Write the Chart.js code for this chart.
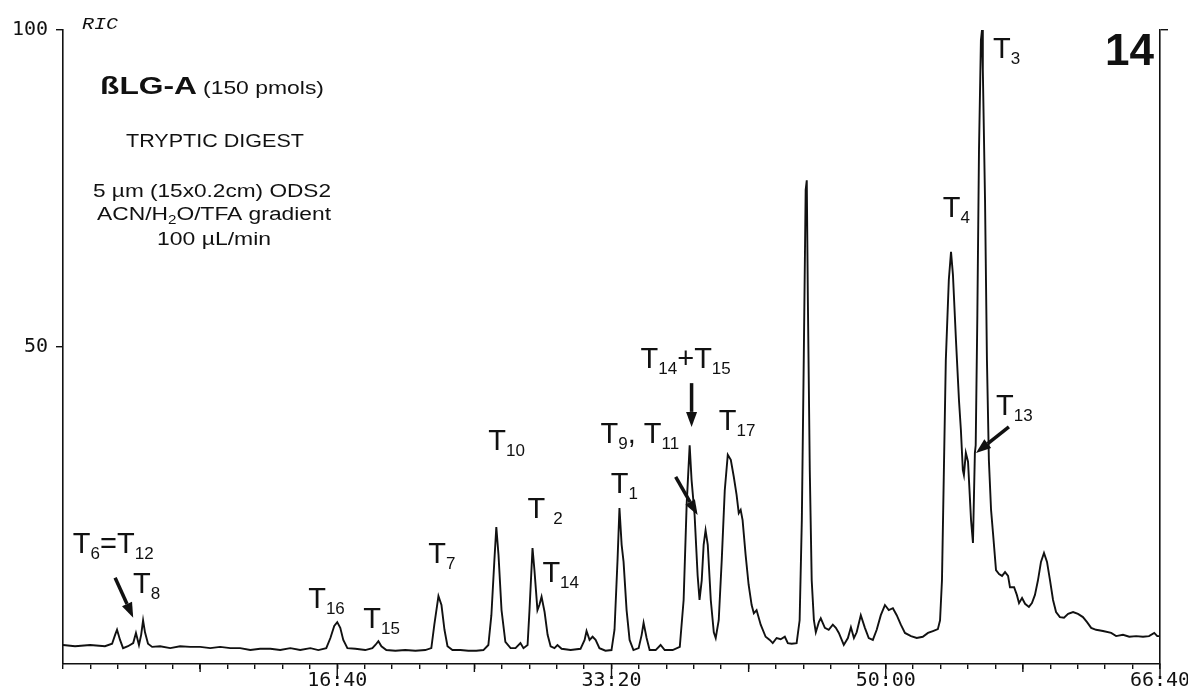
<!DOCTYPE html>
<html>
<head>
<meta charset="utf-8">
<title>RIC - tryptic digest</title>
<script src="https://cdn.jsdelivr.net/npm/chart.js@4.4.1/dist/chart.umd.min.js"></script>
<style>
  html, body { margin: 0; padding: 0; background: #fff; }
  #wrap { position: relative; width: 1188px; height: 700px; }
</style>
</head>
<body>
<div id="wrap"><canvas id="ch"></canvas></div>
<script>
// retention time (s) and RIC intensity (%)
const times = [
  0, 44, 99, 153, 179, 190, 197, 208, 219, 237, 256, 266, 277, 285, 292, 299, 310, 325, 354, 391,
  427, 464, 500, 537, 573, 610, 646, 683, 719, 756, 792, 829, 865, 902, 931, 960, 975, 989, 1000, 1011,
  1022, 1037, 1066, 1102, 1128, 1139, 1150, 1161, 1179, 1212, 1248, 1285, 1321, 1343, 1354, 1369, 1380, 1391, 1402, 1420,
  1449, 1478, 1507, 1533, 1551, 1562, 1573, 1580, 1588, 1599, 1613, 1632, 1650, 1668, 1679, 1694, 1701, 1712, 1719, 1730,
  1737, 1745, 1756, 1767, 1778, 1792, 1803, 1818, 1851, 1887, 1902, 1909, 1920, 1931, 1942, 1956, 1978, 2000, 2011, 2022,
  2029, 2037, 2044, 2055, 2066, 2080, 2099, 2110, 2117, 2128, 2139, 2161, 2179, 2194, 2223, 2249, 2263, 2274, 2285, 2292,
  2303, 2314, 2321, 2329, 2336, 2343, 2351, 2362, 2373, 2380, 2391, 2402, 2413, 2424, 2435, 2446, 2456, 2464, 2471, 2478,
  2489, 2500, 2511, 2519, 2529, 2544, 2562, 2577, 2588, 2602, 2617, 2632, 2643, 2657, 2675, 2686, 2694, 2701, 2708, 2712,
  2716, 2723, 2730, 2738, 2745, 2756, 2763, 2778, 2792, 2807, 2818, 2829, 2847, 2862, 2873, 2884, 2894, 2909, 2924, 2938,
  2953, 2967, 2982, 2997, 3011, 3026, 3040, 3055, 3070, 3092, 3113, 3135, 3154, 3172, 3190, 3198, 3205, 3212, 3219, 3230,
  3238, 3245, 3256, 3267, 3274, 3281, 3285, 3292, 3300, 3311, 3318, 3325, 3328, 3334, 3340, 3347, 3351, 3354, 3362, 3369,
  3376, 3384, 3391, 3402, 3413, 3424, 3435, 3446, 3453, 3468, 3478, 3486, 3497, 3508, 3522, 3533, 3544, 3555, 3566, 3577,
  3588, 3599, 3610, 3621, 3635, 3650, 3665, 3683, 3701, 3719, 3734, 3749, 3767, 3792, 3822, 3840, 3865, 3888, 3913, 3938,
  3960, 3979, 3990, 4000
];
const ric = [
  3.0, 2.8, 3.0, 2.8, 3.2, 4.6, 5.4, 3.8, 2.5, 2.8, 3.3, 4.9, 3.0, 4.6, 6.9, 5.0, 3.2, 2.7, 2.8, 2.5,
  2.8, 2.7, 2.7, 2.5, 2.7, 2.5, 2.5, 2.2, 2.4, 2.4, 2.2, 2.5, 2.2, 2.5, 2.2, 2.5, 4.1, 6.0, 6.6, 5.7,
  3.8, 2.5, 2.4, 2.2, 2.5, 3.0, 3.6, 2.8, 2.2, 2.1, 2.2, 2.1, 2.2, 2.5, 6.2, 10.7, 9.3, 5.4, 2.8, 2.2,
  2.2, 2.1, 2.1, 2.2, 3.0, 7.7, 16.4, 21.6, 17.2, 8.5, 3.5, 2.5, 2.5, 3.3, 2.5, 3.0, 8.5, 18.3, 14.8, 8.5,
  9.3, 10.6, 8.2, 4.6, 2.8, 2.5, 3.0, 2.4, 2.2, 2.4, 3.8, 5.2, 3.8, 4.3, 3.8, 2.5, 2.1, 2.2, 5.4, 16.4,
  24.6, 18.8, 16.1, 8.5, 3.8, 2.2, 2.5, 4.6, 6.5, 4.1, 2.2, 2.2, 3.0, 2.2, 2.2, 2.7, 10.1, 25.1, 34.5, 29.0,
  23.5, 14.0, 10.1, 13.2, 18.8, 21.1, 18.8, 10.1, 5.0, 4.1, 6.9, 16.4, 27.4, 33.0, 32.2, 29.5, 26.7, 23.8, 24.3, 22.7,
  17.2, 12.5, 9.3, 8.0, 8.5, 6.2, 4.3, 3.8, 3.3, 4.1, 3.9, 4.3, 3.3, 3.2, 3.3, 6.9, 22.7, 47.9, 74.8, 76.3,
  57.4, 30.6, 13.2, 6.9, 5.0, 6.6, 7.2, 5.7, 5.4, 6.2, 5.7, 4.9, 3.0, 4.1, 5.8, 4.1, 5.0, 7.7, 5.7, 4.1,
  3.8, 5.4, 7.7, 9.3, 8.5, 8.8, 7.7, 6.2, 4.9, 4.4, 4.1, 4.3, 4.9, 5.2, 5.5, 6.9, 13.2, 30.6, 47.9, 60.6,
  65.0, 61.4, 51.1, 41.6, 36.9, 30.6, 29.8, 33.3, 31.9, 22.7, 19.1, 33.3, 34.5, 55.0, 81.1, 98.4, 100, 93.7, 73.2, 47.9,
  32.2, 24.3, 20.7, 14.8, 14.2, 13.9, 14.5, 13.9, 12.1, 12.1, 10.9, 9.6, 10.4, 9.5, 9.0, 9.6, 10.9, 13.2, 16.1, 17.5,
  16.1, 13.2, 10.1, 8.2, 7.4, 7.3, 7.9, 8.2, 7.9, 7.4, 6.6, 5.7, 5.4, 5.2, 4.9, 4.4, 4.6, 4.3, 4.4, 4.3,
  4.4, 4.9, 4.4, 4.4
];

const xTickValues = [1000, 2000, 3000, 4000];
const xTickLabels = ['16:40', '33:20', '50:00', '66:40'];
const yTickValues = [50, 100];

// peak names, anchored at (time, intensity); '_' marks a subscript
const peakLabels = [
  { t: 36, v: 17.5, parts: ['T', '_6', '=', 'T', '_12'] },
  { t: 255, v: 11.2, parts: ['T', '_8'] },
  { t: 894, v: 8.8, parts: ['T', '_16'] },
  { t: 1095, v: 5.7, parts: ['T', '_15'] },
  { t: 1332, v: 15.9, parts: ['T', '_7'] },
  { t: 1551, v: 33.8, parts: ['T', '_10'] },
  { t: 1694, v: 23.0, parts: ['T', ' ', '_2'] },
  { t: 1748, v: 12.9, parts: ['T', '_14'] },
  { t: 1960, v: 34.9, parts: ['T', '_9', ', ', 'T', '_11'] },
  { t: 1997, v: 27.0, parts: ['T', '_1'] },
  { t: 2106, v: 46.7, parts: ['T', '_14', '+', 'T', '_15'] },
  { t: 2391, v: 36.9, parts: ['T', '_17'] },
  { t: 3208, v: 70.5, parts: ['T', '_4'] },
  { t: 3391, v: 95.6, parts: ['T', '_3'] },
  { t: 3402, v: 39.3, parts: ['T', '_13'] }
];
// arrows: tail -> tip, in (time, intensity)
const arrows = [
  [190, 13.6, 256, 7.3],
  [2292, 44.3, 2292, 37.4],
  [2234, 29.5, 2314, 23.5],
  [3449, 37.4, 3329, 33.3]
];

const INK = '#111';
const SANS = '"Liberation Sans", Arial, sans-serif';
const MONO = '"DejaVu Sans Mono", monospace';

function fmtTime(v) {
  const i = xTickValues.indexOf(v);
  return i < 0 ? '' : xTickLabels[i];
}

// text block drawn with a horizontal stretch to the original's wide lettering
function stretched(ctx, parts, x0, y0, width) {
  let w = 0;
  parts.forEach(p => { ctx.font = p.font; p.w = ctx.measureText(p.t).width; w += p.w; });
  ctx.save();
  ctx.translate(x0, y0);
  ctx.scale(width / w, 1);
  let cx = 0;
  parts.forEach(p => { ctx.font = p.font; ctx.fillText(p.t, cx, p.dy || 0); cx += p.w; });
  ctx.restore();
}

function peakLabel(ctx, x0, y0, parts) {
  let cx = x0;
  parts.forEach(p => {
    const sub = p[0] === '_';
    const s = sub ? p.slice(1) : p;
    ctx.font = (sub ? '17px ' : '29px ') + SANS;
    ctx.fillText(s, cx, sub ? y0 + 6 : y0);
    cx += ctx.measureText(s).width;
  });
}

function arrow(ctx, x1, y1, x2, y2) {
  const a = Math.atan2(y2 - y1, x2 - x1), hl = 15, hw = 5.5;
  const bx = x2 - hl * Math.cos(a), by = y2 - hl * Math.sin(a);
  ctx.lineWidth = 3.5;
  ctx.beginPath(); ctx.moveTo(x1, y1); ctx.lineTo(bx, by); ctx.stroke();
  ctx.beginPath();
  ctx.moveTo(x2, y2);
  ctx.lineTo(bx + hw * Math.sin(a), by - hw * Math.cos(a));
  ctx.lineTo(bx - hw * Math.sin(a), by + hw * Math.cos(a));
  ctx.closePath(); ctx.fill();
}

const annot = {
  id: 'annot',
  afterDraw(chart) {
    const { ctx, scales: { x, y } } = chart;
    ctx.save();
    ctx.fillStyle = INK;
    ctx.strokeStyle = INK;
    ctx.textAlign = 'left';
    ctx.textBaseline = 'alphabetic';

    // longer ticks every 500 s / 1000 s
    ctx.lineWidth = 1.4;
    for (let v = 500; v <= 4000; v += 500) {
      const px = x.getPixelForValue(v);
      ctx.beginPath();
      ctx.moveTo(px, y.bottom);
      ctx.lineTo(px, y.bottom + (v % 1000 === 0 ? 13 : 8));
      ctx.stroke();
    }

    peakLabels.forEach(l => peakLabel(ctx, x.getPixelForValue(l.t), y.getPixelForValue(l.v), l.parts));
    arrows.forEach(a => arrow(ctx, x.getPixelForValue(a[0]), y.getPixelForValue(a[1]),
      x.getPixelForValue(a[2]), y.getPixelForValue(a[3])));

    stretched(ctx, [{ t: 'RIC', font: 'italic 17px "Liberation Mono", monospace' }], 82, 29, 36);
    stretched(ctx, [{ t: 'ßLG-A', font: 'bold 23px ' + SANS }], 100, 94, 97);
    stretched(ctx, [{ t: '(150 pmols)', font: '19px ' + SANS }], 203, 94, 121);
    stretched(ctx, [{ t: 'TRYPTIC DIGEST', font: '19px ' + SANS }], 126, 147, 178);
    stretched(ctx, [{ t: '5 µm (15x0.2cm) ODS2', font: '18px ' + SANS }], 93, 197, 238);
    stretched(ctx, [
      { t: 'ACN/H', font: '18px ' + SANS },
      { t: '2', font: '12px ' + SANS, dy: 4 },
      { t: 'O/TFA gradient', font: '18px ' + SANS }
    ], 97, 220, 234);
    stretched(ctx, [{ t: '100 µL/min', font: '18px ' + SANS }], 157, 245, 114);
    stretched(ctx, [{ t: '14', font: 'bold 44px ' + SANS }], 1105, 65, 49);
    ctx.restore();
  }
};

new Chart(document.getElementById('ch'), {
  type: 'line',
  data: {
    datasets: [{
      label: 'RIC',
      data: times.map((t, i) => ({ x: t, y: ric[i] })),
      borderColor: INK,
      borderWidth: 1.9,
      pointRadius: 0,
      tension: 0,
      fill: false
    }]
  },
  options: {
    responsive: true,
    maintainAspectRatio: false,
    animation: false,
    layout: { padding: { top: 30, left: 0, right: 0, bottom: 0 } },
    plugins: { legend: { display: false }, tooltip: { enabled: false } },
    scales: {
      x: {
        type: 'linear', min: 0, max: 4000,
        ticks: {
          stepSize: 100, autoSkip: false, maxRotation: 0, maxTicksLimit: 100, padding: 0,
          color: INK, font: { family: MONO, size: 20 },
          callback: v => fmtTime(v)
        },
        grid: { drawOnChartArea: false, tickLength: 5, color: INK, lineWidth: 1.4 },
        border: { color: INK, width: 1.6 },
        afterFit: s => { s.height = 36; s.paddingLeft = 0; s.paddingRight = 0; }
      },
      y: {
        min: 0, max: 100,
        afterBuildTicks: s => { s.ticks = yTickValues.map(v => ({ value: v })); },
        ticks: { color: INK, padding: 8, font: { family: MONO, size: 20 } },
        grid: { drawOnChartArea: false, tickLength: 7, color: INK, lineWidth: 1.4 },
        border: { color: INK, width: 1.6 },
        afterFit: s => { s.width = 63; }
      },
      y2: {
        position: 'right', min: 0, max: 100,
        afterBuildTicks: s => { s.ticks = [{ value: 100 }]; },
        ticks: { display: false },
        grid: { drawOnChartArea: false, tickLength: 8, color: INK, lineWidth: 1.4 },
        border: { color: INK, width: 1.6 },
        afterFit: s => { s.width = 28; }
      }
    }
  },
  plugins: [annot]
});
</script>
</body>
</html>
